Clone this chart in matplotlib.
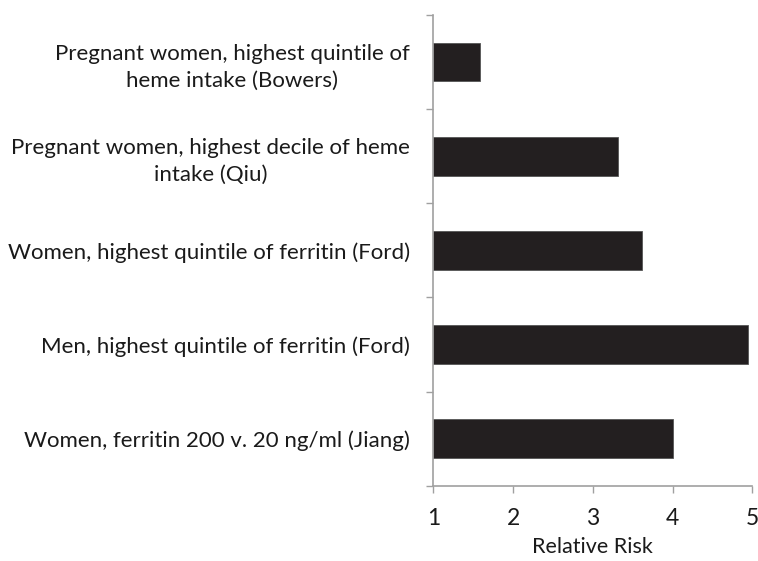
import matplotlib
matplotlib.use("Agg")
import matplotlib.pyplot as plt

categories = [
    "Pregnant women, highest quintile of\nheme intake (Bowers)",
    "Pregnant women, highest decile of heme\nintake (Qiu)",
    "Women, highest quintile of ferritin (Ford)",
    "Men, highest quintile of ferritin (Ford)",
    "Women, ferritin 200 v. 20 ng/ml (Jiang)",
]
relative_risk = [1.58, 3.31, 3.62, 4.94, 4.0]
baseline = 1
x_ticks = [1, 2, 3, 4, 5]

plt.rcParams['font.family'] = ['Lato', 'DejaVu Sans']

fig = plt.figure(figsize=(7.58, 5.61), dpi=100)
ax = fig.add_axes([0.5717, 0.1342, 0.4208, 0.8388])

ypos = list(range(len(categories)))
widths = [v - baseline for v in relative_risk]
ax.barh(ypos, widths, left=baseline, height=0.41, color='#231f20',
        edgecolor='#555555', linewidth=0.6)

ax.set_xlim(1, 5)
ax.set_ylim(len(categories) - 0.5, -0.5)
ax.set_xticks(x_ticks)
ax.set_xticklabels([str(t) for t in x_ticks], fontsize=16.5, color='#1a1a1a')
ax.set_yticks(ypos)
ax.set_yticklabels(categories, fontsize=16, color='#1a1a1a')
for lab in ax.get_yticklabels():
    lab.set_multialignment('center')
    lab.set_linespacing(1.4)
ax.set_yticks([i - 0.5 for i in range(len(categories) + 1)], minor=True)
ax.tick_params(axis='y', which='major', length=0, pad=17)
ax.tick_params(axis='y', which='minor', length=5, color='#a0a0a0', width=1)
ax.tick_params(axis='x', which='major', length=5, color='#a0a0a0', width=1, pad=11)

for s in ['top', 'right']:
    ax.spines[s].set_visible(False)
for s in ['left', 'bottom']:
    ax.spines[s].set_color('#a0a0a0')
    ax.spines[s].set_linewidth(1.2)

ax.set_xlabel("Relative Risk", fontsize=15.5, labelpad=6, color='#1a1a1a')

fig.savefig("out.png", dpi=100)
